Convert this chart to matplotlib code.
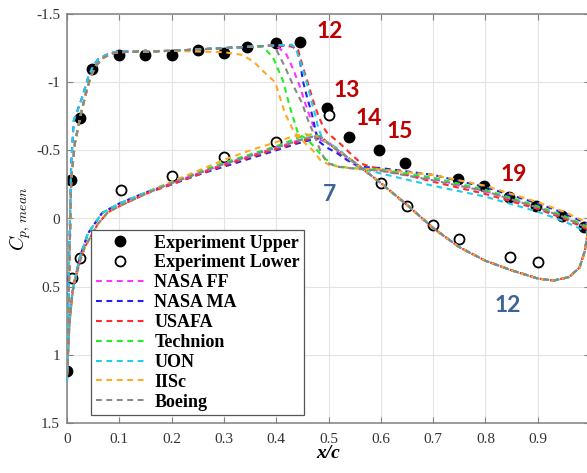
import matplotlib
matplotlib.use('Agg')
import matplotlib.pyplot as plt

plt.rcParams['axes.unicode_minus'] = False

# ---------------- Experimental data ----------------
exp_up_x = [0.0, 0.008, 0.025, 0.048, 0.1, 0.15, 0.2, 0.25, 0.3, 0.345, 0.4, 0.445,
            0.497, 0.54, 0.597, 0.646, 0.748, 0.797, 0.846, 0.897, 0.946, 0.989]
exp_up_cp = [1.12, -0.28, -0.74, -1.095, -1.2, -1.2, -1.2, -1.235, -1.215, -1.26, -1.29, -1.295,
             -0.81, -0.6, -0.5, -0.41, -0.29, -0.24, -0.16, -0.095, -0.015, 0.06]
exp_lo_x = [0.01, 0.025, 0.103, 0.2, 0.3, 0.4, 0.5, 0.6, 0.65, 0.7, 0.75, 0.847, 0.9]
exp_lo_cp = [0.44, 0.29, -0.21, -0.31, -0.45, -0.56, -0.76, -0.26, -0.09, 0.05, 0.15, 0.28, 0.32]

# ---------------- CFD: shared pieces ----------------
# upper surface leading edge region (two variants)
le_x = [0.0, 0.004, 0.008, 0.015, 0.025, 0.035, 0.045, 0.055, 0.07, 0.085, 0.1, 0.15, 0.2, 0.25]
le_cp = [1.15, 0.45, -0.28, -0.55, -0.74, -0.9, -1.04, -1.12, -1.18, -1.21, -1.22, -1.225, -1.23, -1.24]
le2_x = [0.0, 0.004, 0.008, 0.013, 0.02, 0.03, 0.04, 0.05, 0.06, 0.075, 0.09, 0.1, 0.15, 0.2, 0.25]
le2_cp = [1.2, 0.3, -0.4, -0.72, -0.79, -0.9, -1.03, -1.12, -1.17, -1.2, -1.22, -1.225, -1.225, -1.23, -1.24]

# lower surface leading edge region (two variants)
loA_x = [0.0, 0.004, 0.01, 0.015, 0.025, 0.04, 0.067, 0.1, 0.15]
loA_cp = [1.15, 0.8, 0.55, 0.45, 0.28, 0.11, -0.04, -0.11, -0.19]
loB_x = [0.0, 0.005, 0.012, 0.025, 0.034, 0.059, 0.078, 0.1, 0.15]
loB_cp = [1.15, 0.75, 0.5, 0.31, 0.21, 0.04, -0.045, -0.09, -0.18]

# lower surface aft region (shared)
desc_x = [0.55, 0.6, 0.65, 0.7, 0.75, 0.8, 0.85, 0.9, 0.93, 0.96, 0.98, 0.99, 0.995]
desc_cp = [-0.41, -0.26, -0.1, 0.07, 0.21, 0.31, 0.38, 0.44, 0.455, 0.43, 0.36, 0.24, 0.12]

mid_x = [0.2, 0.25, 0.3, 0.35, 0.4, 0.44, 0.47, 0.485, 0.5]
mid_x_iisc = [0.2, 0.25, 0.3, 0.35, 0.4, 0.43, 0.455, 0.48, 0.5]

# ---------------- CFD: per-series pieces ----------------
ff_up_x = [0.3, 0.35, 0.4, 0.42, 0.432, 0.446, 0.455, 0.465, 0.474, 0.48, 0.49, 0.503, 0.528, 0.56,
           0.6, 0.7, 0.8, 0.9, 0.95, 0.995]
ff_up_cp = [-1.25, -1.26, -1.27, -1.2, -1.1, -0.96, -0.85, -0.74, -0.65, -0.58, -0.57, -0.55, -0.45, -0.37,
            -0.35, -0.29, -0.2, -0.08, -0.01, 0.07]
ff_mid_cp = [-0.26, -0.33, -0.4, -0.46, -0.52, -0.57, -0.6, -0.6, -0.55]

ma_up_x = [0.3, 0.35, 0.4, 0.426, 0.44, 0.446, 0.451, 0.459, 0.468, 0.474, 0.48, 0.497, 0.516, 0.535, 0.56,
           0.6, 0.7, 0.8, 0.9, 0.95, 0.995]
ma_up_cp = [-1.25, -1.26, -1.27, -1.27, -1.24, -1.14, -1.01, -0.89, -0.77, -0.67, -0.57, -0.52, -0.48, -0.43, -0.38,
            -0.37, -0.32, -0.23, -0.11, -0.04, 0.04]
ma_mid_cp = [-0.25, -0.32, -0.38, -0.44, -0.5, -0.55, -0.58, -0.59, -0.55]

usafa_up_x = [0.3, 0.35, 0.4, 0.436, 0.442, 0.451, 0.461, 0.47, 0.48, 0.49, 0.497, 0.522, 0.541, 0.564, 0.59,
              0.637, 0.7, 0.8, 0.9, 0.95, 0.995]
usafa_up_cp = [-1.25, -1.26, -1.27, -1.26, -1.235, -1.11, -0.99, -0.87, -0.76, -0.67, -0.63, -0.55, -0.48, -0.4, -0.37,
               -0.33, -0.27, -0.18, -0.07, 0.0, 0.08]
usafa_mid_cp = [-0.25, -0.32, -0.39, -0.45, -0.51, -0.56, -0.59, -0.6, -0.55]

tech_up_x = [0.3, 0.35, 0.375, 0.394, 0.413, 0.426, 0.442, 0.46, 0.49, 0.51, 0.54,
             0.6, 0.7, 0.8, 0.9, 0.95, 0.995]
tech_up_cp = [-1.25, -1.26, -1.26, -1.18, -1.01, -0.82, -0.62, -0.58, -0.45, -0.39, -0.37,
              -0.36, -0.3, -0.21, -0.09, -0.02, 0.06]
tech_mid_cp = [-0.27, -0.34, -0.41, -0.47, -0.53, -0.59, -0.62, -0.6, -0.55]

uon_up_x = [0.3, 0.35, 0.4, 0.43, 0.44, 0.451, 0.461, 0.468, 0.476, 0.48, 0.49, 0.503, 0.522, 0.541, 0.56,
            0.6, 0.7, 0.8, 0.9, 0.95, 0.995]
uon_up_cp = [-1.25, -1.26, -1.27, -1.275, -1.22, -1.09, -0.96, -0.85, -0.74, -0.67, -0.57, -0.55, -0.5, -0.43, -0.37,
             -0.33, -0.24, -0.16, -0.05, 0.02, 0.1]
uon_mid_cp = [-0.26, -0.33, -0.4, -0.46, -0.52, -0.57, -0.6, -0.6, -0.55]

iisc_up_x = [0.3, 0.335, 0.357, 0.378, 0.398, 0.407, 0.417, 0.432, 0.442, 0.47, 0.484, 0.503, 0.528, 0.56,
             0.6, 0.7, 0.8, 0.9, 0.95, 0.995]
iisc_up_cp = [-1.22, -1.2, -1.15, -1.07, -1.0, -0.89, -0.77, -0.65, -0.6, -0.5, -0.43, -0.39, -0.375, -0.365,
              -0.36, -0.32, -0.24, -0.12, -0.05, 0.03]
iisc_mid_cp = [-0.27, -0.35, -0.43, -0.5, -0.56, -0.6, -0.62, -0.6, -0.55]

boe_up_x = [0.3, 0.35, 0.39, 0.4, 0.417, 0.432, 0.449, 0.461, 0.474, 0.485, 0.497, 0.516, 0.55,
            0.6, 0.7, 0.8, 0.9, 0.95, 0.995]
boe_up_cp = [-1.25, -1.26, -1.27, -1.24, -1.11, -0.98, -0.85, -0.72, -0.6, -0.49, -0.41, -0.38, -0.365,
             -0.35, -0.28, -0.2, -0.08, -0.01, 0.07]
boe_mid_cp = [-0.26, -0.33, -0.4, -0.46, -0.52, -0.57, -0.6, -0.6, -0.55]

labels = ['NASA FF', 'NASA MA', 'USAFA', 'Technion', 'UON', 'IISc', 'Boeing']
colors = ['#FF33FF', '#2222EE', '#FF2A2A', '#22EE22', '#22CCEE', '#FFAA22', '#888888']

series = [
    (le_x, le_cp, ff_up_x, ff_up_cp, mid_x, ff_mid_cp, loA_x, loA_cp),
    (le2_x, le2_cp, ma_up_x, ma_up_cp, mid_x, ma_mid_cp, loA_x, loA_cp),
    (le_x, le_cp, usafa_up_x, usafa_up_cp, mid_x, usafa_mid_cp, loB_x, loB_cp),
    (le_x, le_cp, tech_up_x, tech_up_cp, mid_x, tech_mid_cp, loA_x, loA_cp),
    (le2_x, le2_cp, uon_up_x, uon_up_cp, mid_x, uon_mid_cp, loA_x, loA_cp),
    (le_x[:-1], le_cp[:-1], iisc_up_x, iisc_up_cp, mid_x_iisc, iisc_mid_cp, loB_x, loB_cp),
    (le_x, le_cp, boe_up_x, boe_up_cp, mid_x, boe_mid_cp, loB_x, loB_cp),
]

fig = plt.figure(figsize=(5.87, 4.73), dpi=100)
ax = fig.add_axes([67 / 587, 50 / 473, 523 / 587, 409 / 473])

# experiment markers (drawn below lines)
h_up, = ax.plot(exp_up_x, exp_up_cp, 'o', color='black', markersize=7.5, zorder=2,
                label='Experiment Upper')
h_lo, = ax.plot(exp_lo_x, exp_lo_cp, 'o', markerfacecolor='white', markeredgecolor='black',
                markeredgewidth=1.3, markersize=7.2, zorder=2, label='Experiment Lower')

handles = [h_up, h_lo]
for (lx, lc, ux, uc, mx, mc, bx, bc), lab, col in zip(series, labels, colors):
    xs = list(lx) + list(ux) + desc_x[::-1] + mx[::-1] + bx[::-1]
    cs = list(lc) + list(uc) + desc_cp[::-1] + mc[::-1] + bc[::-1]
    h, = ax.plot(xs, cs, color=col, lw=1.5, linestyle=(0, (2.8, 2.2)), label=lab, zorder=3)
    handles.append(h)

ax.set_xlim(0, 1)
ax.set_ylim(1.5, -1.5)
ax.set_xticks([0, 0.1, 0.2, 0.3, 0.4, 0.5, 0.6, 0.7, 0.8, 0.9, 1.0])
ax.set_xticklabels(['0', '0.1', '0.2', '0.3', '0.4', '0.5', '0.6', '0.7', '0.8', '0.9', '1'])
ax.set_yticks([-1.5, -1, -0.5, 0, 0.5, 1, 1.5])
ax.set_yticklabels(['-1.5', '-1', '-0.5', '0', '0.5', '1', '1.5'])

ax.grid(True, color='#e3e3e3', lw=0.8, zorder=0)
ax.set_axisbelow(True)
for s in ax.spines.values():
    s.set_color('#808080')
    s.set_linewidth(1.1)
ax.tick_params(direction='in', length=4, width=0.8, color='#808080',
               top=True, right=True, labelcolor='#333333')
ax.tick_params(axis='x', pad=7)
ax.tick_params(axis='y', pad=5)
for t in ax.get_xticklabels() + ax.get_yticklabels():
    t.set_fontfamily('Liberation Serif')
    t.set_fontsize(11)

ax.text(-0.09, 0.5, r'$C_{p,\,mean}$', transform=ax.transAxes, rotation=90,
        ha='center', va='center', fontsize=14, math_fontfamily='cm')
ax.text(0.5, -0.055, 'x/c', transform=ax.transAxes, ha='center', va='top',
        fontsize=14, fontstyle='italic', fontweight='bold', family='Liberation Serif')

leg = ax.legend(handles=handles, loc='upper left', bbox_to_anchor=(24 / 523, 193 / 409),
                borderaxespad=0, fancybox=False, framealpha=1, edgecolor='#555555',
                prop={'family': 'Liberation Serif', 'weight': 'bold', 'size': 13},
                handlelength=2.7, handletextpad=0.55, labelspacing=0.16, borderpad=0.25)
leg.get_frame().set_linewidth(0.9)
leg.set_zorder(5)

red = '#C00000'
blue = '#3D6495'
ann = [('12', 0.503, -1.368, red), ('13', 0.535, -0.941, red), ('14', 0.577, -0.735, red),
       ('15', 0.637, -0.64, red), ('19', 0.855, -0.324, red), ('7', 0.501, -0.176, blue),
       ('12', 0.843, 0.64, blue)]
for txt, x, y, c in ann:
    ax.text(x, y, txt, color=c, fontsize=16.5, fontweight='bold', family='Lato',
            ha='center', va='center', zorder=6)

fig.savefig('out.png', dpi=100)
